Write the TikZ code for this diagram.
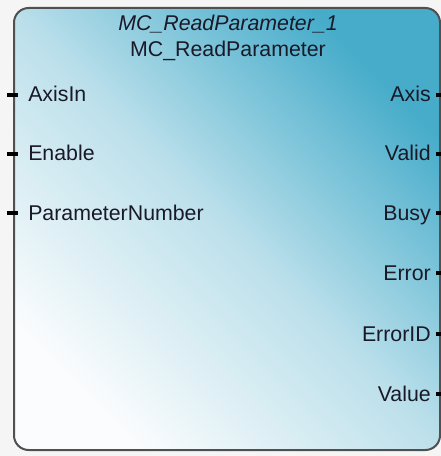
\documentclass[tikz,border=0pt]{standalone}
\usepackage{fontspec}
\setmainfont{Liberation Sans}
\usetikzlibrary{positioning}
\definecolor{fbblue}{RGB}{70,172,202}
\definecolor{fbmid}{RGB}{188,224,235}
\definecolor{fbpale}{RGB}{250,252,253}
\definecolor{fbedge}{RGB}{80,80,80}
\definecolor{fbback}{RGB}{245,245,245}
\definecolor{fbtext}{RGB}{25,25,40}
\begin{document}
\begin{tikzpicture}[
  x=0.75pt, y=-0.75pt,
  every node/.style={
    font=\fontsize{16}{19}\selectfont,
    text=fbtext,
    inner sep=0pt
  },
  fbbox/.style={
    draw=fbedge,
    line width=1.5pt,
    rounded corners=11pt,
    minimum width=319.5pt,
    minimum height=331.5pt,
    shading=axis,
    top color=fbblue,
    bottom color=fbpale,
    middle color=fbmid,
    shading angle=-45
  },
  inpin/.style={anchor=base west},
  outpin/.style={anchor=base east},
  stub/.style={line width=3pt, draw=black}
]
\useasboundingbox[fill=fbback] (0,0) rectangle (441,456);
\node[fbbox] (fb) at (227,229) {};
\node[anchor=base, font=\fontsize{16}{19}\selectfont\itshape] (inst) at (228,31) {MC\_ReadParameter\_1};
\node[anchor=base] (type) at (228,57) {MC\_ReadParameter};
% inputs
\foreach \name/\y in {AxisIn/95, Enable/154, ParameterNumber/213} {
  \node[inpin] (\name) at (28,\y+7) {\name};
  \coordinate (\name-a) at (7,\y);
  \coordinate (\name-b) at (18,\y);
  \draw[stub] (\name-a) -- (\name-b);
}
% outputs
\foreach \name/\y in {Axis/95, Valid/154, Busy/213, Error/273, ErrorID/334, Value/394} {
  \node[outpin] (\name) at (431,\y+7) {\name};
  \coordinate (\name-a) at (436,\y);
  \coordinate (\name-b) at (447,\y);
  \draw[stub] (\name-a) -- (\name-b);
}
\end{tikzpicture}
\end{document}
